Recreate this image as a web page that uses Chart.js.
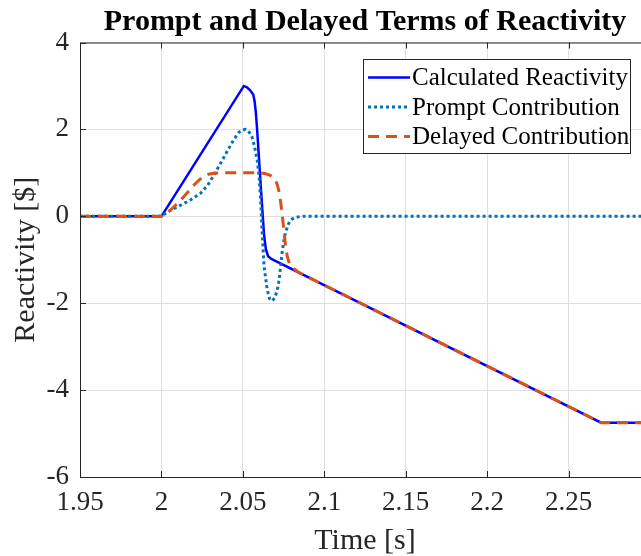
<!DOCTYPE html>
<html>
<head>
<meta charset="utf-8">
<script src="https://cdn.jsdelivr.net/npm/chart.js@4.4.1/dist/chart.umd.min.js"></script>
<style>
  html, body { margin: 0; padding: 0; overflow: hidden; background: #fff; }
</style>
</head>
<body>
<canvas id="reactChart" width="650" height="556"></canvas>
<script>
// values
const xTicks = [1.95, 2, 2.05, 2.1, 2.15, 2.2, 2.25];
const yTicks = [-6, -4, -2, 0, 2, 4];

const calcTime  = [1.95, 2.0, 2.0506, 2.0525, 2.0545, 2.0564, 2.0572, 2.058, 2.0588, 2.0609, 2.063, 2.0641, 2.0655, 2.0675, 2.27, 2.3];
const calcValue = [0, 0, 3.0, 2.97, 2.9, 2.8, 2.65, 2.38, 1.97, 0.75, -0.42, -0.75, -0.92, -0.98, -4.75, -4.75];

const promptTime  = [1.95, 2.0, 2.0026, 2.0057, 2.0088, 2.012, 2.018, 2.024, 2.0285, 2.0322, 2.0365, 2.0404, 2.0445, 2.0475, 2.05, 2.0517, 2.0535, 2.0555, 2.0572, 2.0588, 2.06, 2.0609, 2.0619, 2.063, 2.065, 2.0665, 2.068, 2.0695, 2.071, 2.0722, 2.0732, 2.0742, 2.0757, 2.0772, 2.0787, 2.0803, 2.083, 2.086, 2.3];
const promptValue = [0, 0, 0.07, 0.14, 0.2, 0.26, 0.38, 0.53, 0.72, 0.95, 1.23, 1.5, 1.77, 1.93, 1.99, 2.0, 1.96, 1.84, 1.6, 1.3, 0.9, 0.4, -0.38, -1.15, -1.7, -1.9, -1.95, -1.88, -1.72, -1.48, -1.15, -0.8, -0.45, -0.25, -0.12, -0.06, -0.02, 0, 0];

const delayedTime  = [1.95, 2.0, 2.0026, 2.0057, 2.0088, 2.0118, 2.0149, 2.02, 2.025, 2.029, 2.0322, 2.036, 2.061, 2.064, 2.0665, 2.0692, 2.071, 2.0722, 2.0732, 2.0742, 2.0752, 2.0763, 2.0773, 2.0785, 2.0805, 2.0835, 2.0853, 2.27, 2.3];
const delayedValue = [0, 0, 0.05, 0.15, 0.26, 0.37, 0.5, 0.72, 0.9, 0.97, 0.99, 1.0, 1.0, 0.98, 0.95, 0.88, 0.75, 0.57, 0.33, 0.02, -0.33, -0.7, -0.93, -1.08, -1.18, -1.27, -1.31, -4.75, -4.75];

const FONT = '"Liberation Serif", "Times New Roman", serif';
const AXIS_COLOR = "#262626";

function toPoints(xs, ys) {
  return xs.map((x, i) => ({ x, y: ys[i] }));
}

function fmtTick(v) {
  return String(+v.toFixed(2));
}

// box around the plot + MATLAB style inward ticks
const axesBox = {
  id: "axesBox",
  afterDatasetsDraw(chart) {
    const { ctx, chartArea: a, scales } = chart;
    ctx.save();
    ctx.strokeStyle = AXIS_COLOR;
    ctx.lineWidth = 1;
    ctx.beginPath();
    ctx.moveTo(a.right + 5, a.top + 0.5);
    ctx.lineTo(a.left + 0.5, a.top + 0.5);
    ctx.lineTo(a.left + 0.5, a.bottom + 0.5);
    ctx.lineTo(a.right + 5, a.bottom + 0.5);
    xTicks.forEach(t => {
      const px = Math.round(scales.x.getPixelForValue(t)) + 0.5;
      ctx.moveTo(px, a.top); ctx.lineTo(px, a.top + 6);
      ctx.moveTo(px, a.bottom); ctx.lineTo(px, a.bottom - 6);
    });
    yTicks.forEach(t => {
      const py = Math.round(scales.y.getPixelForValue(t)) + 0.5;
      ctx.moveTo(a.left, py); ctx.lineTo(a.left + 6, py);
    });
    ctx.stroke();
    ctx.restore();
  }
};

// legend box inside the plot, top right
const boxLegend = {
  id: "boxLegend",
  afterDraw(chart) {
    const { ctx } = chart;
    const x0 = 363, y0 = 59.5, w = 267, h = 94;
    ctx.save();
    ctx.fillStyle = "#fff";
    ctx.fillRect(x0, y0, w, h);
    ctx.strokeStyle = AXIS_COLOR;
    ctx.lineWidth = 1;
    ctx.strokeRect(x0 + 0.5, y0, w, h);
    ctx.font = "25px " + FONT;
    ctx.textBaseline = "middle";
    ctx.fillStyle = "#000";
    chart.data.datasets.forEach((ds, i) => {
      const cy = y0 + 18 + i * 29.5;
      ctx.beginPath();
      ctx.strokeStyle = ds.borderColor;
      ctx.lineWidth = ds.borderWidth;
      ctx.setLineDash(ds.borderDash || []);
      ctx.moveTo(x0 + 5, cy);
      ctx.lineTo(x0 + 47, cy);
      ctx.stroke();
      ctx.setLineDash([]);
      ctx.fillText(ds.label, x0 + 49, cy + 1);
    });
    ctx.restore();
  }
};

new Chart(document.getElementById("reactChart"), {
  type: "line",
  data: {
    datasets: [
      {
        label: "Calculated Reactivity",
        data: toPoints(calcTime, calcValue),
        borderColor: "#0000ff",
        borderWidth: 2.5,
        tension: 0,
        pointRadius: 0,
        order: 3
      },
      {
        label: "Prompt Contribution",
        data: toPoints(promptTime, promptValue),
        borderColor: "#0072bd",
        borderWidth: 3,
        borderDash: [3, 3],
        tension: 0,
        pointRadius: 0,
        order: 2
      },
      {
        label: "Delayed Contribution",
        data: toPoints(delayedTime, delayedValue),
        borderColor: "#d95319",
        borderWidth: 3,
        borderDash: [11, 7],
        tension: 0,
        pointRadius: 0,
        order: 1
      }
    ]
  },
  options: {
    responsive: false,
    animation: false,
    layout: { padding: 0 },
    plugins: {
      legend: { display: false },
      tooltip: { enabled: false },
      title: {
        display: true,
        text: "Prompt and Delayed Terms of Reactivity",
        fullSize: false,
        color: "#000",
        font: { family: FONT, size: 30, weight: "bold", lineHeight: 1.2 },
        padding: { top: 4, bottom: 2.5 }
      }
    },
    scales: {
      x: {
        type: "linear",
        min: 1.95,
        max: 2.3,
        afterBuildTicks: s => { s.ticks = xTicks.map(v => ({ value: v })); },
        afterFit: s => { s.height = 79; },
        grid: { color: "#dfdfdf", drawTicks: false },
        border: { display: false },
        ticks: { color: AXIS_COLOR, padding: 10, maxRotation: 0, font: { family: FONT, size: 27 }, callback: fmtTick },
        title: { display: true, text: "Time [s]", color: AXIS_COLOR, font: { family: FONT, size: 30, lineHeight: 1 }, padding: { top: 0, bottom: 0 } }
      },
      y: {
        min: -6,
        max: 4,
        afterBuildTicks: s => { s.ticks = yTicks.map(v => ({ value: v })); },
        afterFit: s => { s.width = 80; },
        grid: { color: "#dfdfdf", drawTicks: false },
        border: { display: false },
        ticks: { color: AXIS_COLOR, padding: 11, font: { family: FONT, size: 27 }, callback: fmtTick },
        title: { display: true, text: "Reactivity [$]", color: AXIS_COLOR, font: { family: FONT, size: 30, lineHeight: 1 }, padding: { top: 11, bottom: 0 } }
      }
    }
  },
  plugins: [axesBox, boxLegend]
});
</script>
</body>
</html>
